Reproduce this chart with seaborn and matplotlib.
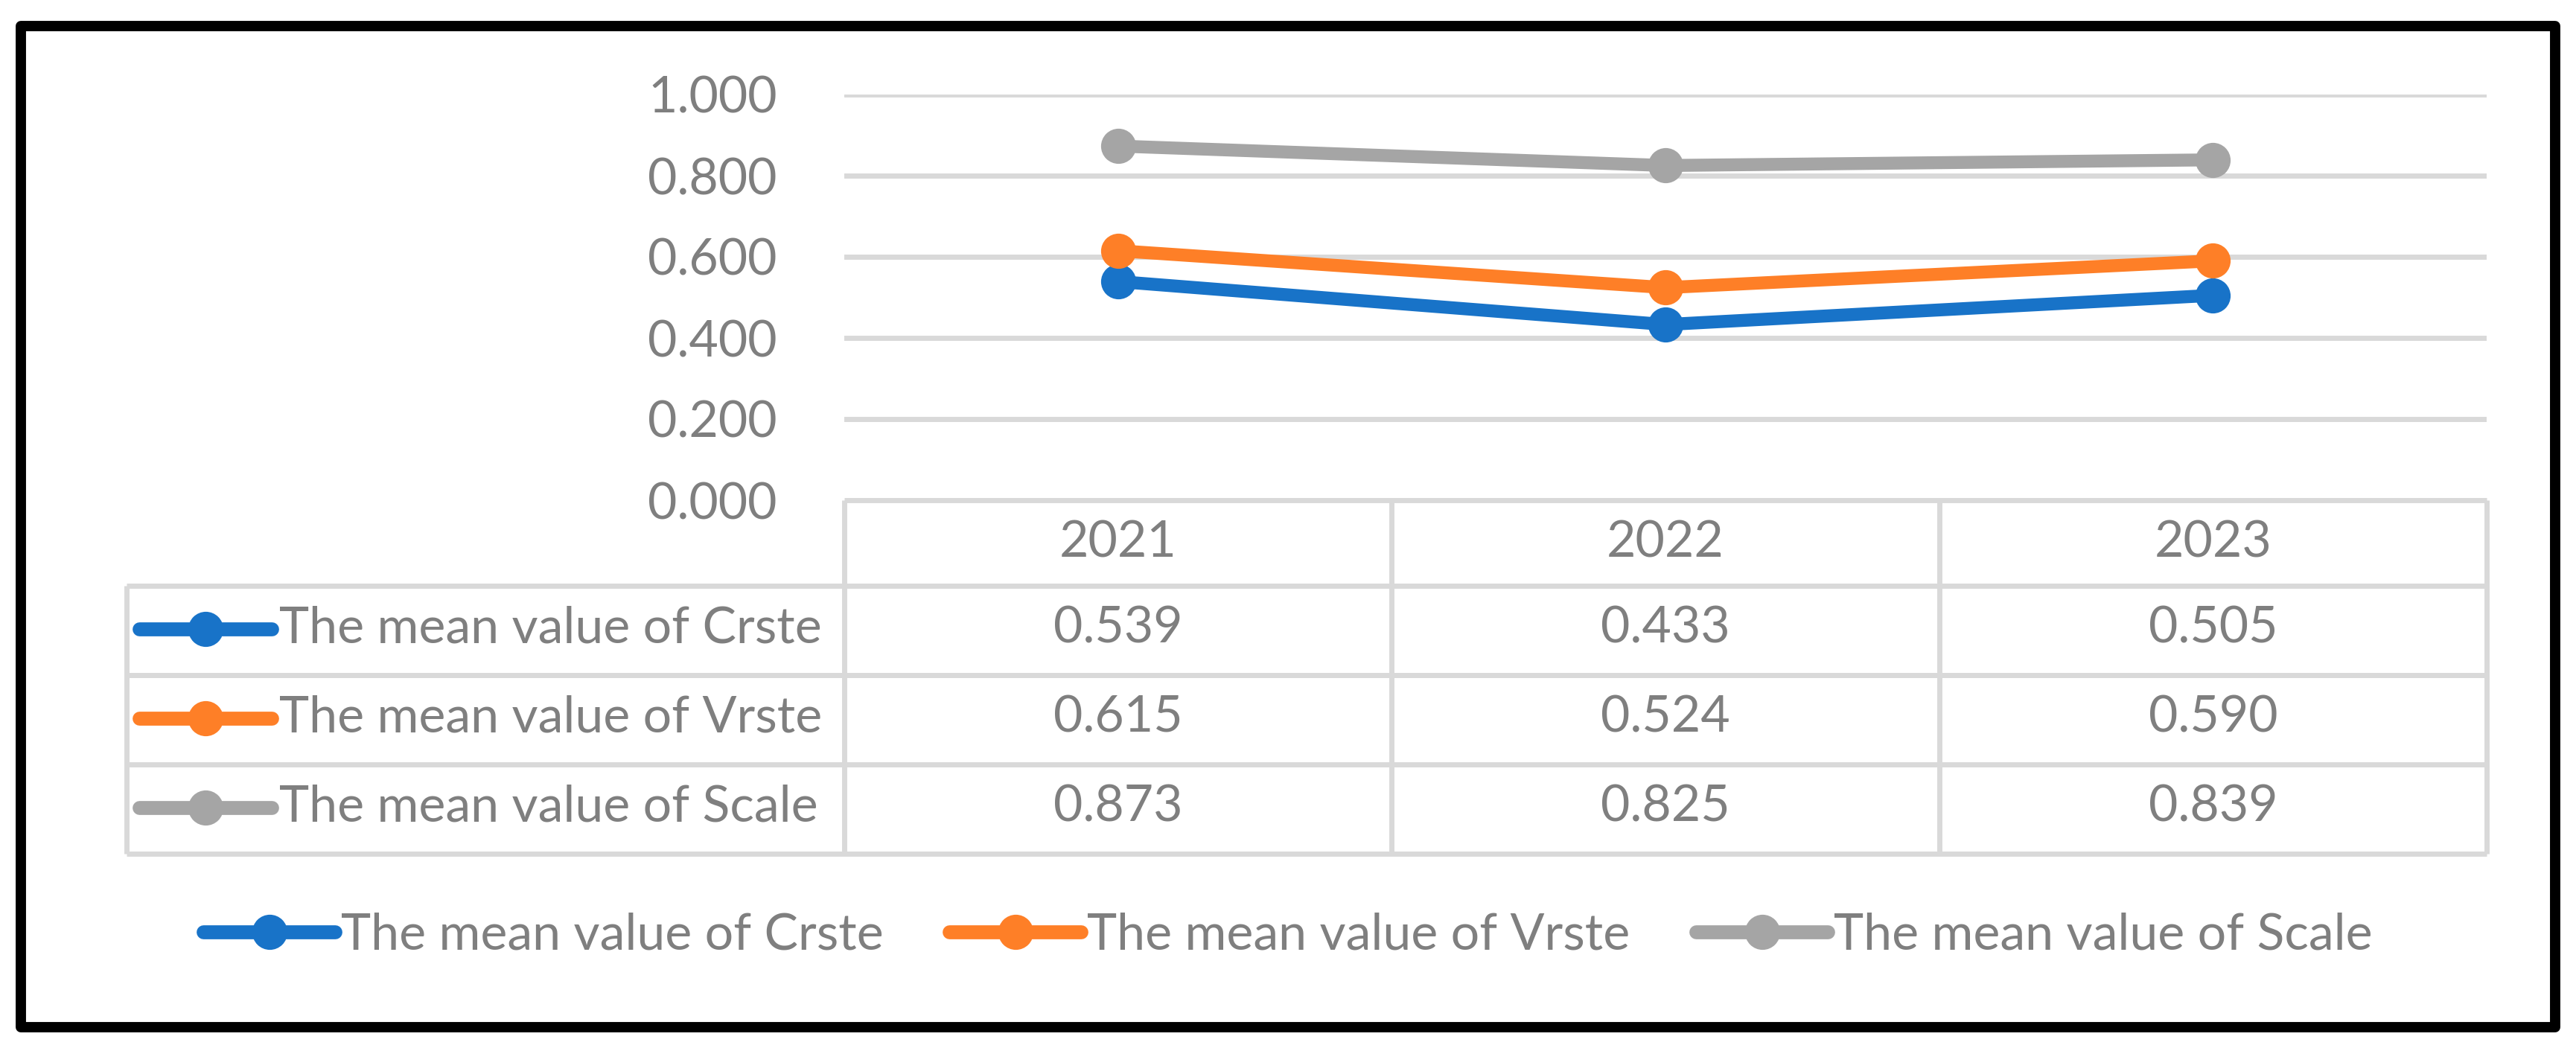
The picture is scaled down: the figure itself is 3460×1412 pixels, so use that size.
import numpy as np
import pandas as pd
import matplotlib
matplotlib.use("Agg")
import matplotlib.pyplot as plt
from matplotlib.lines import Line2D
from matplotlib.patches import Rectangle
import seaborn as sns

# ---------------- data ----------------
years = ["2021", "2022", "2023"]
series_names = ["The mean value of Crste", "The mean value of Vrste", "The mean value of Scale"]
crste = [0.539, 0.433, 0.505]
vrste = [0.615, 0.524, 0.590]
scale = [0.873, 0.825, 0.839]
y_ticks = [0.0, 0.2, 0.4, 0.6, 0.8, 1.0]

series_values = [crste, vrste, scale]
colors = ["#1873C8", "#FE7F27", "#A5A5A5"]

df = pd.DataFrame({
    "year": np.tile(years, len(series_names)),
    "series": np.repeat(series_names, len(years)),
    "value": np.concatenate(series_values),
})

# ---------------- style ----------------
sns.set_theme(style="white")
plt.rcParams["font.family"] = ["Lato", "DejaVu Sans"]
TXT = "#7F7F7F"
GRID = "#D9D9D9"
FS = 49

W, H = 3460, 1412
fig = plt.figure(figsize=(W / 100, H / 100), dpi=100)
fig.patch.set_facecolor("white")

# main plot axes (pixel layout)
L, R, T, B = 1134, 3340, 127, 672
ax = fig.add_axes([L / W, (H - B) / H, (R - L) / W, (B - T) / H])

sns.lineplot(data=df, x="year", y="value", hue="series", hue_order=series_names,
             palette=colors, marker="o", markersize=34, markeredgewidth=0,
             linewidth=12.5, sort=False, legend=False, ax=ax, zorder=3)
ax.set_xlim(-0.5, len(years) - 0.5)
ax.set_ylim(0, 1.0)
ax.set_yticks(y_ticks)
ax.set_yticklabels([f"{v:.3f}" for v in y_ticks], fontsize=FS, color=TXT)
ax.tick_params(axis="y", length=0, pad=65)
ax.tick_params(axis="x", length=0, labelbottom=False)
ax.set_xlabel("")
ax.set_ylabel("")
for s in ax.spines.values():
    s.set_visible(False)
ax.grid(False)
for v in y_ticks[1:]:
    ax.axhline(v, color=GRID, linewidth=5, zorder=1)

# ---------------- data table ----------------
px_per_unit = (R - L) / len(years)
TL = 170
tx0 = -0.5 - (L - TL) / px_per_unit
tax = fig.add_axes([TL / W, (H - 1147) / H, (R - TL) / W, (1147 - B) / H])
tax.set_xlim(tx0, len(years) - 0.5)
rows = [0, 115, 235, 355, 475]
tax.set_ylim(rows[-1], 0)
tax.axis("off")

def px(xp):
    return -0.5 + (xp - L) / px_per_unit

lw_t = 5
# header top line (x-axis) and horizontal row lines
tax.hlines(rows[0], -0.5, len(years) - 0.5, color=GRID, linewidth=lw_t, clip_on=False)
for r in rows[1:]:
    tax.hlines(r, tx0, len(years) - 0.5, color=GRID, linewidth=lw_t, clip_on=False)
# vertical lines
tax.vlines(tx0, rows[1], rows[-1], color=GRID, linewidth=lw_t, clip_on=False)
for i in range(len(years) + 1):
    tax.vlines(i - 0.5, rows[0], rows[-1], color=GRID, linewidth=lw_t, clip_on=False)

# header
for i, yr in enumerate(years):
    tax.text(i, (rows[0] + rows[1]) / 2, yr, ha="center", va="center",
             fontsize=FS, color=TXT)
# rows
for k, (name, vals, c) in enumerate(zip(series_names, series_values, colors)):
    yc = (rows[k + 1] + rows[k + 2]) / 2 - 2
    tax.plot([px(187), px(365)], [yc, yc], color=c, linewidth=13.5,
             solid_capstyle="round", clip_on=False)
    tax.plot([px(276)], [yc], marker="o", markersize=34, markeredgewidth=0,
             color=c, clip_on=False)
    tax.text(px(375), yc, name, ha="left", va="center", fontsize=FS, color=TXT)
    for i, v in enumerate(vals):
        tax.text(i, yc, f"{v:.3f}", ha="center", va="center", fontsize=FS, color=TXT)

# ---------------- bottom legend ----------------
handles = [Line2D([0], [0], color=c, linewidth=13.5, marker="o", markersize=34,
                  markeredgewidth=0, solid_capstyle="round") for c in colors]
fig.legend(handles, series_names, loc="center", ncol=3, frameon=False,
           bbox_to_anchor=(0.5, (H - 1257) / H), fontsize=FS, labelcolor=TXT,
           handlelength=2.6, handletextpad=0.12, columnspacing=1.3)

# ---------------- outer border ----------------
fig.patches.append(Rectangle((28 / W, (H - 1380) / H), 3404 / W, 1345.5 / H,
                             transform=fig.transFigure, fill=False,
                             edgecolor="black", linewidth=10, joinstyle="round"))

fig.savefig("out.png", dpi=100, facecolor="white")
